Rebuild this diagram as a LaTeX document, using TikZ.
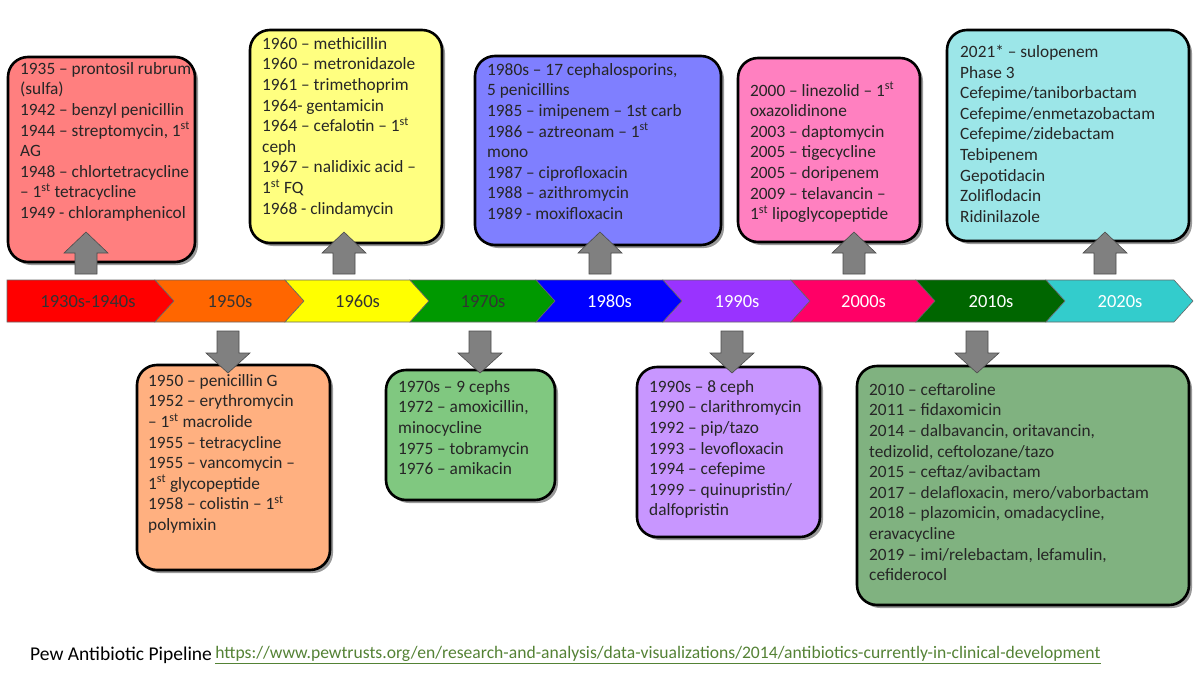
\documentclass[tikz,border=0pt]{standalone}
\usepackage{fontspec}
\setmainfont{Carlito}
\begin{document}
\begin{tikzpicture}[x=1pt,y=-1pt,
  box/.style={draw=black,line width=2.6pt,rounded corners=20pt},
  txt/.style={anchor=north west,align=left,inner sep=0pt,font=\fontsize{17.3}{20.6}\selectfont,text=black!85},
  seg/.style={draw=black!60,line width=0.6pt},
  lab/.style={font=\fontsize{18.5}{18}\selectfont,anchor=base},
  arr/.style={fill=black!50,draw=black!70,line width=0.6pt}]
\useasboundingbox (0,0) rectangle (1200,675);
\definecolor{cA}{HTML}{FF7F7F}\definecolor{cB}{HTML}{FFFF80}\definecolor{cC}{HTML}{7F7FFF}
\definecolor{cD}{HTML}{FF80C0}\definecolor{cE}{HTML}{9CE6E8}\definecolor{cF}{HTML}{FFB080}
\definecolor{cG}{HTML}{80C880}\definecolor{cH}{HTML}{C896FF}\definecolor{cI}{HTML}{80B280}
\definecolor{sA}{HTML}{FF0000}\definecolor{sB}{HTML}{FF6600}\definecolor{sC}{HTML}{FFFF00}
\definecolor{sD}{HTML}{009900}\definecolor{sE}{HTML}{0000FF}\definecolor{sF}{HTML}{9933FF}
\definecolor{sG}{HTML}{FF0066}\definecolor{sH}{HTML}{006600}\definecolor{sI}{HTML}{33CCCC}
% boxes
\fill[black!40,rounded corners=20pt] (11,60) rectangle (198,265);
\draw[box,fill=cA] (8,57) rectangle (195,262);
\fill[black!40,rounded corners=20pt] (253,33) rectangle (445,246);
\draw[box,fill=cB] (250,30) rectangle (442,243);
\fill[black!40,rounded corners=20pt] (478,59) rectangle (724,248);
\draw[box,fill=cC] (475,56) rectangle (721,245);
\fill[black!40,rounded corners=20pt] (741,61) rectangle (923,245);
\draw[box,fill=cD] (738,58) rectangle (920,242);
\fill[black!40,rounded corners=20pt] (950,33) rectangle (1192,244);
\draw[box,fill=cE] (947,30) rectangle (1189,241);
\fill[black!40,rounded corners=20pt] (140,368) rectangle (333,573);
\draw[box,fill=cF] (137,365) rectangle (330,570);
\fill[black!40,rounded corners=20pt] (389,373) rectangle (558,503);
\draw[box,fill=cG] (386,370) rectangle (555,500);
\fill[black!40,rounded corners=20pt] (640,370) rectangle (823,540);
\draw[box,fill=cH] (637,367) rectangle (820,537);
\fill[black!40,rounded corners=20pt] (860,369) rectangle (1192,608);
\draw[box,fill=cI] (857,366) rectangle (1189,605);
% texts
\node[txt] (t1) at (20,62) {1935 – prontosil rubrum\\(sulfa)\\1942 – benzyl penicillin\\1944 – streptomycin, 1\textsuperscript{st}\\AG\\1948 – chlortetracycline\\– 1\textsuperscript{st} tetracycline\\1949 - chloramphenicol};
\node[txt] (t2) at (262,37) {1960 – methicillin\\1960 – metronidazole\\1961 – trimethoprim\\1964- gentamicin\\1964 – cefalotin – 1\textsuperscript{st}\\ceph\\1967 – nalidixic acid –\\1\textsuperscript{st} FQ\\1968 - clindamycin};
\node[txt] (t3) at (487,63) {1980s – 17 cephalosporins,\\5 penicillins\\1985 – imipenem – 1st carb\\1986 – aztreonam – 1\textsuperscript{st}\\mono\\1987 – ciprofloxacin\\1988 – azithromycin\\1989 - moxifloxacin};
\node[txt] (t4) at (750,82) {2000 – linezolid – 1\textsuperscript{st}\\oxazolidinone\\2003 – daptomycin\\2005 – tigecycline\\2005 – doripenem\\2009 – telavancin –\\1\textsuperscript{st}  lipoglycopeptide};
\node[txt] (t5) at (960,45) {2021* – sulopenem\\Phase 3\\Cefepime/taniborbactam\\Cefepime/enmetazobactam\\Cefepime/zidebactam\\Tebipenem\\Gepotidacin\\Zoliflodacin\\Ridinilazole};
\node[txt] (t6) at (148,374) {1950 – penicillin G\\1952 – erythromycin\\– 1\textsuperscript{st}  macrolide\\1955 – tetracycline\\1955 – vancomycin –\\1\textsuperscript{st}  glycopeptide\\1958 – colistin – 1\textsuperscript{st}\\polymixin};
\node[txt] (t7) at (398,380) {1970s – 9 cephs\\1972 – amoxicillin,\\minocycline\\1975 – tobramycin\\1976 – amikacin};
\node[txt] (t8) at (649,380) {1990s – 8 ceph\\1990 – clarithromycin\\1992 – pip/tazo\\1993 – levofloxacin\\1994 – cefepime\\1999 – quinupristin/\\dalfopristin};
\node[txt] (t9) at (869,383) {2010 – ceftaroline\\2011 – fidaxomicin\\2014 – dalbavancin, oritavancin,\\tedizolid, ceftolozane/tazo\\2015 – ceftaz/avibactam\\2017 – delafloxacin, mero/vaborbactam\\2018 – plazomicin, omadacycline,\\eravacycline\\2019 – imi/relebactam, lefamulin,\\cefiderocol};
% timeline
\def\seg#1#2#3#4#5#6{%
  \draw[seg,fill=#3] (#1,280) -- (#2,280) -- (#2+19,301) -- (#2,322) -- (#1,322) -- (#1+19,301) -- cycle;
  \node[lab,text=#4] (#6) at ({(#1+#2)/2+10},307) {#5};}
\draw[seg,fill=sA] (7,280) -- (155,280) -- (174,301) -- (155,322) -- (7,322) -- cycle;
\node[lab,text=black!80] (s1) at (88,307) {1930s-1940s};
\seg{155}{285}{sB}{black!80}{1950s}{s2}
\seg{285}{410}{sC}{black!80}{1960s}{s3}
\seg{410}{536}{sD}{black!80}{1970s}{s4}
\seg{536}{663}{sE}{white}{1980s}{s5}
\seg{663}{791}{sF}{white}{1990s}{s6}
\seg{791}{916}{sG}{white}{2000s}{s7}
\seg{916}{1046}{sH}{white}{2010s}{s8}
\seg{1046}{1174}{sI}{white}{2020s}{s9}
% arrows
\foreach \x in {86,344,600,854,1105}
  \draw[arr] (\x-11,274) -- (\x-11,253) -- (\x-22,253) -- (\x,232) -- (\x+22,253) -- (\x+11,253) -- (\x+11,274) -- cycle;
\foreach \x in {228,480,732,977}
  \draw[arr] (\x-11,331) -- (\x-11,353) -- (\x-22,353) -- (\x,373) -- (\x+22,353) -- (\x+11,353) -- (\x+11,331) -- cycle;
% footer
\node[anchor=west,inner sep=0pt,font=\fontsize{19.5}{20}\selectfont] (f1) at (30,655) {Pew Antibiotic Pipeline};
\node[anchor=west,inner sep=0pt,font=\fontsize{17.6}{20}\selectfont,text={rgb,255:red,84;green,130;blue,53}] (f2) at (f1.east) {\,\underline{https://www.pewtrusts.org/en/research-and-analysis/data-visualizations/2014/antibiotics-currently-in-clinical-development}};
\end{tikzpicture}
\end{document}
